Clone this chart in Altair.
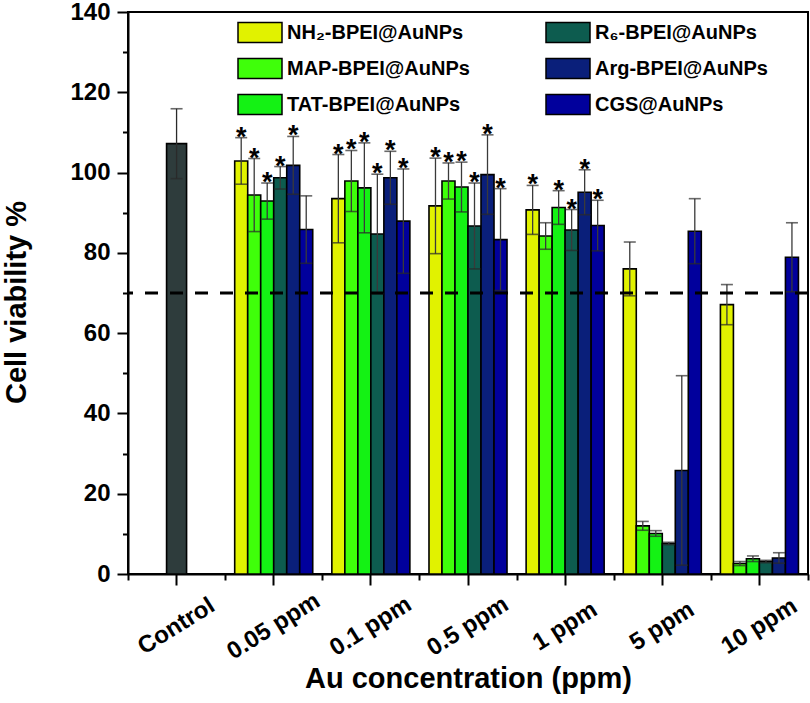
import altair as alt
import pandas as pd

# Categories on the x axis
concentrations = ["Control", "0.05 ppm", "0.1 ppm", "0.5 ppm", "1 ppm", "5 ppm", "10 ppm"]
doses = concentrations[1:]

# Nanoparticle formulations and their fill colours
series = ["NH₂-BPEI@AuNPs", "MAP-BPEI@AuNPs", "TAT-BPEI@AuNPs",
          "R₆-BPEI@AuNPs", "Arg-BPEI@AuNPs", "CGS@AuNPs"]
colors = ["#E1F200", "#3FFF0A", "#14F214", "#0D5C4F", "#0A1F7A", "#01009C"]
control_color = "#2E3C3C"

# Untreated control
control_mean = 107.2
control_sd = 8.7

# Mean cell viability (%) and SD per formulation, in dose order
nh2_mean = [102.9, 93.5, 91.7, 90.7, 76.0, 67.1]
nh2_sd = [5.8, 11.0, 11.9, 6.1, 6.7, 5.0]
map_mean = [94.4, 97.9, 97.9, 84.2, 12.0, 2.6]
map_sd = [9.1, 7.6, 4.5, 3.3, 1.1, 0.5]
tat_mean = [92.9, 96.2, 96.4, 91.3, 10.1, 3.8]
tat_sd = [4.5, 11.2, 6.2, 4.2, 0.7, 0.7]
r6_mean = [98.7, 84.7, 86.7, 85.7, 7.6, 3.1]
r6_sd = [2.8, 14.9, 10.7, 5.1, 0.3, 0.3]
arg_mean = [101.8, 98.7, 99.5, 95.1, 25.8, 4.0]
arg_sd = [7.2, 6.6, 9.9, 5.6, 23.6, 1.3]
cgs_mean = [85.8, 87.9, 83.3, 86.8, 85.4, 78.9]
cgs_sd = [8.4, 13.0, 12.7, 6.3, 8.1, 8.6]

# Significance markers (1 = asterisk above the error bar)
nh2_sig = [1, 1, 1, 1, 0, 0]
map_sig = [1, 1, 1, 0, 0, 0]
tat_sig = [1, 1, 1, 1, 0, 0]
r6_sig = [1, 1, 1, 1, 0, 0]
arg_sig = [1, 1, 1, 1, 0, 0]
cgs_sig = [0, 1, 1, 1, 0, 0]

threshold = 70

means = [nh2_mean, map_mean, tat_mean, r6_mean, arg_mean, cgs_mean]
sds = [nh2_sd, map_sd, tat_sd, r6_sd, arg_sd, cgs_sd]
sigs = [nh2_sig, map_sig, tat_sig, r6_sig, arg_sig, cgs_sig]

rows = []
for name, m_list, s_list, g_list in zip(series, means, sds, sigs):
    for dose, m, s, g in zip(doses, m_list, s_list, g_list):
        rows.append({"conc": dose, "series": name, "mean": m,
                     "lo": m - s, "hi": m + s, "sig": g})
df = pd.DataFrame(rows)
ctrl = pd.DataFrame([{"conc": "Control", "mean": control_mean,
                      "lo": control_mean - control_sd,
                      "hi": control_mean + control_sd}])
thr = pd.DataFrame({"v": [threshold]})

FONT = "Liberation Sans"

x_scale = alt.Scale(domain=concentrations, paddingInner=0, paddingOuter=0)
y_scale = alt.Scale(domain=[0, 140], nice=False, zero=True)
off_scale = alt.Scale(domain=series, paddingInner=0, paddingOuter=0.735)

x_axis = alt.Axis(
    title="Au concentration (ppm)", labelAngle=-32, labelAlign="center",
    labelBaseline="middle", labelPadding=41, labelFontSize=24, labelFont=FONT,
    labelFontWeight="bold", labelColor="black", labelOverlap=False,
    tickSize=11, tickWidth=2, tickColor="black", domainColor="black",
    domainWidth=2, grid=False, titleFont=FONT, titleFontSize=29,
    titleFontWeight="bold", titleColor="black", titleX=340, titleY=113,
    titleAlign="center", titleBaseline="alphabetic",
)
y_axis = alt.Axis(
    title="Cell viability %", values=list(range(0, 141, 20)), tickSize=11,
    tickWidth=2, tickColor="black", domainColor="black", domainWidth=2,
    labelPadding=7, labelFontSize=24, labelFont=FONT, labelFontWeight="bold",
    labelColor="black", grid=False, titleFont=FONT, titleFontSize=29,
    titleFontWeight="bold", titleColor="black", titleX=-112, titleY=290,
    titleAngle=-90, titleAlign="center", titleBaseline="middle",
)

X = alt.X("conc:N", scale=x_scale, axis=x_axis)
XO = alt.XOffset("series:N", scale=off_scale)

# Wide rectangular swatches: the path reaches past the unit box so the
# legend rows stay compact while the swatch is drawn 44 x 20 px.
legend = alt.Legend(
    title=None, orient="none", legendX=121, legendY=9.5, columns=2,
    direction="vertical",
    symbolType="M-2.2,-1L2.2,-1L2.2,1L-2.2,1Z", symbolSize=400,
    symbolStrokeColor="black", symbolStrokeWidth=1.5, symbolOpacity=1,
    labelFont=FONT, labelFontSize=20, labelFontWeight="bold",
    labelColor="black", labelLimit=0, labelOffset=16, columnPadding=73,
    rowPadding=10, padding=0,
)

bars = alt.Chart(df).mark_bar(stroke="black", strokeWidth=1.6, opacity=1).encode(
    x=X, xOffset=XO,
    y=alt.Y("mean:Q", scale=y_scale, axis=y_axis),
    color=alt.Color("series:N", scale=alt.Scale(domain=series, range=colors),
                    legend=legend),
)
ctrl_bar = alt.Chart(ctrl).mark_bar(
    width=20, fill=control_color, stroke="black", strokeWidth=1.6
).encode(x=X, y=alt.Y("mean:Q", scale=y_scale))

err = alt.Chart(df).mark_rule(color="#3a3a3a", strokeWidth=1.3).encode(
    x=X, xOffset=XO, y=alt.Y("lo:Q", scale=y_scale), y2="hi:Q")
cap_hi = alt.Chart(df).mark_tick(color="#2a2a2a", thickness=1.6, size=12).encode(
    x=X, xOffset=XO, y=alt.Y("hi:Q", scale=y_scale))
cap_lo = alt.Chart(df).mark_tick(color="#2a2a2a", thickness=1.6, size=12).encode(
    x=X, xOffset=XO, y=alt.Y("lo:Q", scale=y_scale))

ctrl_err = alt.Chart(ctrl).mark_rule(color="#2a2a2a", strokeWidth=1.3).encode(
    x=X, y=alt.Y("lo:Q", scale=y_scale), y2="hi:Q")
ctrl_hi = alt.Chart(ctrl).mark_tick(color="#2a2a2a", thickness=1.6, size=12).encode(
    x=X, y=alt.Y("hi:Q", scale=y_scale))
ctrl_lo = alt.Chart(ctrl).mark_tick(color="#2a2a2a", thickness=1.6, size=12).encode(
    x=X, y=alt.Y("lo:Q", scale=y_scale))

stars = alt.Chart(df).transform_filter("datum.sig == 1").mark_text(
    text="*", font=FONT, fontSize=27, fontWeight="bold", color="black",
    baseline="alphabetic", dy=8,
).encode(x=X, xOffset=XO, y=alt.Y("hi:Q", scale=y_scale))

cutoff = alt.Chart(thr).mark_rule(
    color="black", strokeWidth=3, strokeDash=[13, 12]
).encode(y=alt.Y("v:Q", scale=y_scale))

main = alt.layer(bars, ctrl_bar, err, cap_hi, cap_lo, ctrl_err, ctrl_hi,
                 ctrl_lo, stars, cutoff)

# Invisible layer that carries the minor ticks of both axes
minor = alt.Chart(ctrl).mark_point(opacity=0).encode(
    x=alt.X("conc:N", scale=x_scale, axis=alt.Axis(
        orient="bottom", title=None, labels=False, domain=False,
        tickBand="extent", tickSize=6, tickWidth=2, tickColor="black",
        grid=False)),
    y=alt.Y("mean:Q", scale=y_scale, axis=alt.Axis(
        orient="left", title=None, labels=False, domain=False,
        values=list(range(10, 140, 20)), tickSize=5.5, tickWidth=2,
        tickColor="black", grid=False)),
)

chart = alt.layer(main, minor).resolve_scale(
    x="independent", y="independent"
).properties(
    width=680, height=562,
    autosize=alt.AutoSizeParams(type="none"),
    padding={"left": 128, "top": 12, "right": 2, "bottom": 129},
).configure_view(stroke="black", strokeWidth=2)

chart.save("out.html", embed_options={"renderer": "svg", "actions": False})
